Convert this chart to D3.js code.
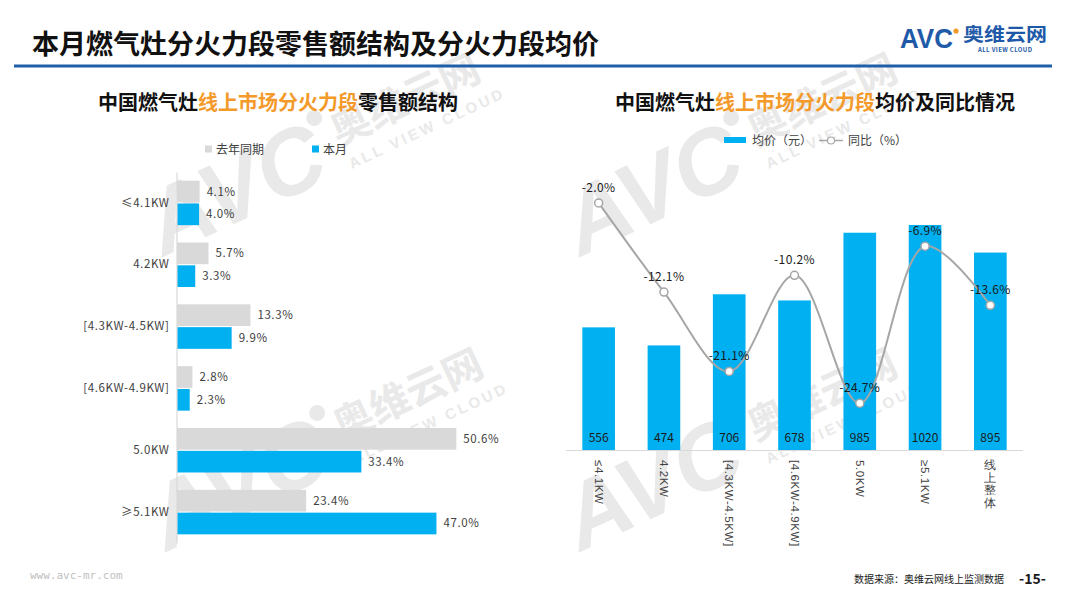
<!DOCTYPE html>
<html><head><meta charset="utf-8">
<script src="https://cdn.jsdelivr.net/npm/d3@7"></script>
<style>
html,body{margin:0;padding:0;background:#fff;}
svg{display:block;font-family:"Noto Sans CJK SC","Noto Sans",sans-serif;}
</style></head>
<body>
<svg id="c" width="1080" height="608"></svg>
<script>
const leftCats = ["≤4.1KW","4.2KW","[4.3KW-4.5KW]","[4.6KW-4.9KW]","5.0KW","≥5.1KW"];
const seriesNames = ["去年同期","本月"];
const lastYear = [4.1,5.7,13.3,2.8,50.6,23.4];
const thisMonth = [4.0,3.3,9.9,2.3,33.4,47.0];
const rightCats = ["≤4.1KW","4.2KW","[4.3KW-4.5KW]","[4.6KW-4.9KW]","5.0KW","≥5.1KW","线上整体"];
const avgPrice = [556,474,706,678,985,1020,895];
const yoy = [-2.0,-12.1,-21.1,-10.2,-24.7,-6.9,-13.6];
const rightLegend = ["均价（元）","同比（%）"];

const BLUE = "#00b0f0", GRAY = "#d9d9d9", ORANGE = "#f39a2b";
const svg = d3.select("#c");

// ---- watermarks (drawn behind) ----
function watermark(x,y){
  const g = svg.append("g").attr("transform",`translate(${x},${y}) rotate(-25)`)
    .attr("fill","#e9e9e9").style("pointer-events","none");
  g.append("text").attr("x",0).attr("y",14).attr("text-anchor","middle").attr("font-size",40)
    .attr("font-weight","bold").text("奥维云网");
  g.append("text").attr("x",8).attr("y",40).attr("text-anchor","middle").attr("font-size",15)
    .attr("font-weight","bold").attr("letter-spacing",3).attr("font-family","Liberation Sans, sans-serif").text("ALL VIEW CLOUD");
  g.append("text").attr("x",-98).attr("y",40).attr("text-anchor","end").attr("font-size",92)
    .attr("font-weight","bold").attr("font-style","italic").attr("font-family","Liberation Sans, sans-serif").text("AVC");
  g.append("circle").attr("cx",-90).attr("cy",-22).attr("r",8);
}
watermark(405,100); watermark(408,395); watermark(822,100); watermark(822,395);

// ---- header ----
svg.append("text").attr("x",32).attr("y",54).attr("font-size",27).attr("font-weight","bold")
  .attr("fill","#111").text("本月燃气灶分火力段零售额结构及分火力段均价");
svg.append("rect").attr("x",14).attr("y",64.5).attr("width",1038).attr("height",3).attr("fill","#1f5faa");
// logo
svg.append("text").attr("x",900).attr("y",48).attr("font-size",27).attr("font-weight","bold")
  .attr("fill","#1e5aa8").attr("font-family","Liberation Sans, Arial, sans-serif")
  .attr("textLength",53).attr("lengthAdjust","spacingAndGlyphs").text("AVC");
svg.append("circle").attr("cx",956).attr("cy",31).attr("r",2.6).attr("fill","#f39a2b");
svg.append("text").attr("x",963).attr("y",41).attr("font-size",18).attr("font-weight","bold")
  .attr("fill","#1e5aa8").attr("textLength",84).attr("lengthAdjust","spacingAndGlyphs").text("奥维云网");
svg.append("text").attr("x",978).attr("y",52).attr("font-size",6).attr("font-weight","bold")
  .attr("fill","#1e5aa8").attr("textLength",54).text("ALL VIEW CLOUD");

// ---- chart titles ----
function title(cx, parts){
  const t = svg.append("text").attr("x",cx).attr("y",110).attr("font-size",20).attr("font-weight","bold")
    .attr("text-anchor","middle");
  parts.forEach(p=>t.append("tspan").attr("fill",p[1]).text(p[0]));
}
title(278,[["中国燃气灶","#111"],["线上市场分火力段",ORANGE],["零售额结构","#111"]]);
title(815,[["中国燃气灶","#111"],["线上市场分火力段",ORANGE],["均价及同比情况","#111"]]);

// ---- left chart ----
const yL = d3.scaleBand().domain(leftCats).range([172,543]);
const inner = d3.scaleBand().domain([0,1]).range([0,yL.bandwidth()]).paddingInner(0.05).paddingOuter(0.38);
const xL = d3.scaleLinear().domain([0,60]).range([177,508.2]);
const leftSeries = [lastYear, thisMonth];
const leftColors = [GRAY, BLUE];

// legend
[[205,0],[312,1]].forEach(([x,i])=>{
  svg.append("rect").attr("x",x).attr("y",145.5).attr("width",7).attr("height",7).attr("fill",leftColors[i]);
  svg.append("text").attr("x",x+11).attr("y",153.5).attr("font-size",12).attr("fill","#404040").text(seriesNames[i]);
});

leftSeries.forEach((vals,si)=>{
  svg.append("g").selectAll("rect").data(vals).join("rect")
    .attr("x",xL(0)).attr("y",(d,i)=>yL(leftCats[i])+inner(si))
    .attr("width",d=>xL(d)-xL(0)).attr("height",inner.bandwidth()).attr("fill",leftColors[si]);
  svg.append("g").selectAll("text").data(vals).join("text")
    .attr("x",d=>xL(d)+7).attr("y",(d,i)=>yL(leftCats[i])+inner(si)+inner.bandwidth()/2+4)
    .attr("font-size",11.5).attr("fill","#404040").attr("letter-spacing",0.6)
    .text(d=>d.toFixed(1)+"%");
});
const axL = svg.append("g").attr("transform",`translate(${xL(0)-0.5},0)`)
  .call(d3.axisLeft(yL).tickSize(0).tickPadding(7));
axL.attr("font-size",11.5);
axL.select(".domain").attr("stroke","#d9d9d9").attr("stroke-width",1.2);
axL.selectAll("text").attr("font-size",11.5).attr("fill","#404040").attr("letter-spacing",0.6)
  .attr("font-family","Noto Sans CJK SC, sans-serif");

// ---- right chart ----
const xR = d3.scaleBand().domain(rightCats).range([566,1023]).paddingInner(0.5).paddingOuter(0.25);
const yR = d3.scaleLinear().domain([0,1200]).range([450,185.3]);
const y2 = d3.scaleLinear().domain([-30,0]).range([450,185.3]);

svg.append("g").selectAll("rect").data(avgPrice).join("rect")
  .attr("x",(d,i)=>xR(rightCats[i])).attr("y",d=>yR(d))
  .attr("width",xR.bandwidth()).attr("height",d=>yR(0)-yR(d)).attr("fill",BLUE);
svg.append("g").selectAll("text").data(avgPrice).join("text")
  .attr("x",(d,i)=>xR(rightCats[i])+xR.bandwidth()/2).attr("y",442)
  .attr("text-anchor","middle").attr("font-size",12).attr("fill","#1a1a1a").text(d=>d);

const axR = svg.append("g").attr("transform",`translate(0,${yR(0)})`)
  .call(d3.axisBottom(xR).tickSize(0).tickPadding(10));
axR.attr("font-size",11.5);
axR.select(".domain").attr("stroke","#d9d9d9").attr("stroke-width",1.2).attr("d","M566,0.5H1023");
axR.selectAll(".tick text").each(function(d){
  const t = d3.select(this);
  t.attr("font-size",11.5).attr("fill","#404040").attr("dy",null);
  if (/[\u4e00-\u9fff]/.test(d)) {
    t.text(null).attr("text-anchor","middle").attr("x",0).attr("y",0);
    Array.from(d).forEach((ch,k)=>t.append("tspan").attr("x",0).attr("y",19+k*12.5).text(ch));
  } else {
    t.attr("text-anchor","start").attr("x",0).attr("y",0)
     .attr("transform","translate(-4,10) rotate(90)").attr("letter-spacing",0.6);
  }
});

// line
const cx = (d,i)=>xR(rightCats[i])+xR.bandwidth()/2;
const line = d3.line().x(cx).y(d=>y2(d)).curve(d3.curveCatmullRom.alpha(0.5));
svg.append("path").datum(yoy).attr("d",line).attr("fill","none").attr("stroke","#a6a6a6").attr("stroke-width",2);
svg.append("g").selectAll("circle").data(yoy).join("circle")
  .attr("cx",cx).attr("cy",d=>y2(d)).attr("r",4).attr("fill","#fff").attr("stroke","#a6a6a6").attr("stroke-width",1.5);
svg.append("g").selectAll("text").data(yoy).join("text")
  .attr("x",cx).attr("y",d=>y2(d)-11).attr("text-anchor","middle").attr("font-size",12)
  .attr("fill","#1a1a1a").attr("letter-spacing",0.4).text(d=>d.toFixed(1)+"%");

// right legend
svg.append("rect").attr("x",724).attr("y",137).attr("width",22).attr("height",6).attr("fill",BLUE);
svg.append("text").attr("x",752).attr("y",145).attr("font-size",12).attr("fill","#404040").text(rightLegend[0]);
svg.append("line").attr("x1",819).attr("x2",843).attr("y1",140.5).attr("y2",140.5).attr("stroke","#a6a6a6").attr("stroke-width",1.5);
svg.append("circle").attr("cx",831).attr("cy",140.5).attr("r",3.5).attr("fill","#fff").attr("stroke","#a6a6a6").attr("stroke-width",1.2);
svg.append("text").attr("x",848).attr("y",145).attr("font-size",12).attr("fill","#404040").text(rightLegend[1]);

// ---- footer ----
svg.append("text").attr("x",30).attr("y",579).attr("font-size",11).attr("fill","#bfbfbf")
  .attr("font-family","DejaVu Sans Mono, monospace").text("www.avc-mr.com");
svg.append("text").attr("x",1004).attr("y",583).attr("text-anchor","end").attr("font-size",10)
  .attr("fill","#1a1a1a").text("数据来源：奥维云网线上监测数据");
svg.append("text").attr("x",1019).attr("y",584).attr("font-size",14).attr("font-weight","bold")
  .attr("fill","#1a1a1a").text("-15-");
</script>
</body></html>
